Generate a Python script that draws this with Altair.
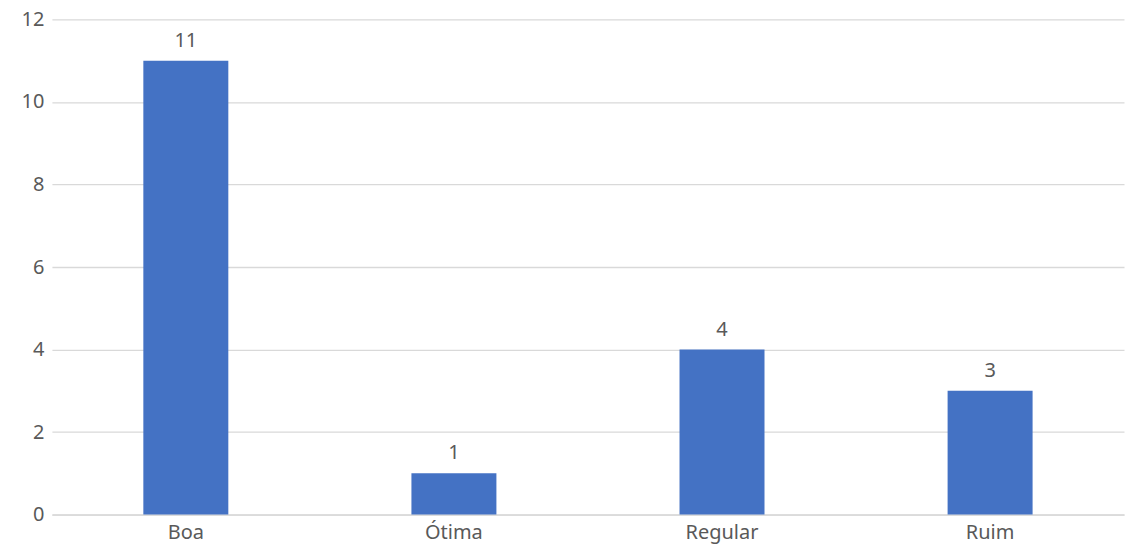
import altair as alt
import pandas as pd

categories = ["Boa", "Ótima", "Regular", "Ruim"]
values = [11, 1, 4, 3]

df = pd.DataFrame({"categoria": categories, "valor": values})

FONT = "Noto Sans"
GRAY = "#595959"
FS = 20

x = alt.X("categoria:N", sort=categories, title=None,
          scale=alt.Scale(paddingInner=0.683, paddingOuter=0.341),
          axis=alt.Axis(labelAngle=0, labelFont=FONT, labelFontSize=FS, labelColor=GRAY,
                        domainColor="#d9d9d9", domainWidth=1.5, ticks=False, labelPadding=8))
y = alt.Y("valor:Q", title=None,
          scale=alt.Scale(domain=[0, 12]),
          axis=alt.Axis(values=[0, 2, 4, 6, 8, 10, 12], labelFont=FONT, labelFontSize=FS,
                        labelColor=GRAY, gridColor="#d9d9d9", gridWidth=1.3, domain=False,
                        ticks=False, labelPadding=8))

bars = alt.Chart(df).mark_bar(color="#4472c4").encode(x=x, y=y)
text = alt.Chart(df).mark_text(dy=-20, baseline="middle", font=FONT, fontSize=FS, color=GRAY).encode(
    x=alt.X("categoria:N", sort=categories), y="valor:Q", text="valor:Q")

chart = (bars + text).properties(
    width=1074, height=496,
    autosize=alt.AutoSizeParams(type="none"),
    padding={"left": 44, "top": 11, "right": 4, "bottom": 30},
).configure_view(stroke=None)

chart.save("out.html", embed_options={"renderer": "svg", "actions": False})
